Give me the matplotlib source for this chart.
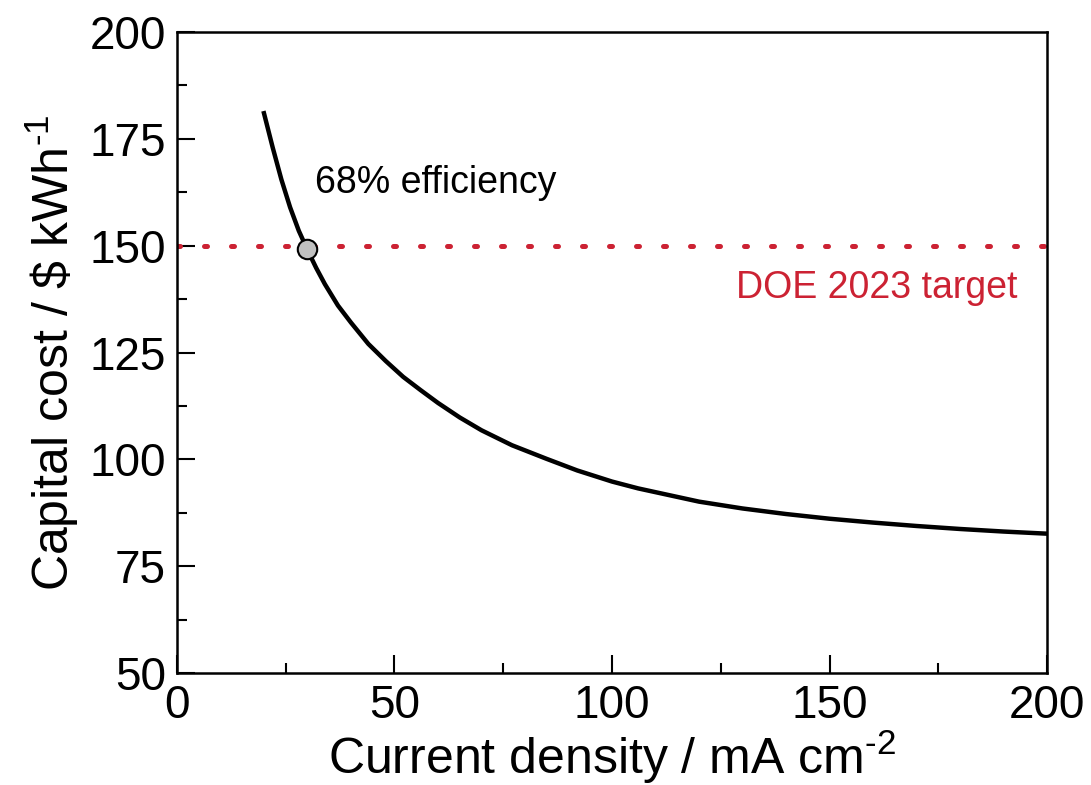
import matplotlib
matplotlib.use("Agg")
import matplotlib.pyplot as plt
from matplotlib.ticker import MultipleLocator

# data
current_density = [20, 22, 24, 26, 28, 30, 32, 34, 37, 40, 44, 48, 52, 56, 60, 65, 70, 77,
                   85, 92, 100, 106, 120, 130, 140, 150, 160, 170, 180, 190, 200]
capital_cost = [181, 173, 165.5, 159, 153.5, 149, 144.8, 141, 136, 132, 127, 123, 119.3,
                116.2, 113.2, 109.8, 106.8, 103.3, 100.1, 97.4, 94.8, 93.2, 90.1, 88.5,
                87.2, 86.1, 85.2, 84.4, 83.7, 83.1, 82.6]
target_cost = 150
target_point = (30, 149.3)

plt.rcParams['font.family'] = ['Liberation Sans', 'DejaVu Sans']
plt.rcParams['mathtext.fontset'] = 'custom'
plt.rcParams['mathtext.rm'] = 'Liberation Sans'

fig = plt.figure(figsize=(10.91, 7.85), dpi=100)
ax = fig.add_axes([0.1622, 0.1427, 0.7975, 0.8165])

red = '#cc2233'

# DOE target line
ax.plot([0, 200], [target_cost, target_cost], color=red, linewidth=3.6,
        dashes=[0.6, 4.8], dash_capstyle='round', zorder=2)

# cost curve
ax.plot(current_density, capital_cost, color='black', linewidth=3.2,
        solid_joinstyle='round', zorder=3)

# 68% efficiency point
ax.plot(*target_point, marker='o', markersize=14, markerfacecolor='#c0c0c0',
        markeredgecolor='black', markeredgewidth=1.5, zorder=4)

ax.text(31.7, 164.6, '68% efficiency', fontsize=27, va='center', ha='left')
ax.text(193.3, 140.2, 'DOE 2023 target', fontsize=27, va='center', ha='right', color=red)

ax.set_xlim(0, 200)
ax.set_ylim(50, 200)
ax.xaxis.set_major_locator(MultipleLocator(50))
ax.xaxis.set_minor_locator(MultipleLocator(25))
ax.yaxis.set_major_locator(MultipleLocator(25))
ax.yaxis.set_minor_locator(MultipleLocator(12.5))
ax.tick_params(which='both', direction='in', width=1.5, labelsize=33, pad=8)
ax.tick_params(which='major', length=13)
ax.tick_params(which='minor', length=7)
for s in ax.spines.values():
    s.set_linewidth(1.8)

ax.set_xlabel('Current density / mA cm$^{\\text{-2}}$', fontsize=36, labelpad=0)
ax.set_ylabel('Capital cost / \\$ kWh$^{\\text{-1}}$', fontsize=36, labelpad=6)

fig.savefig('out.png', dpi=100)
